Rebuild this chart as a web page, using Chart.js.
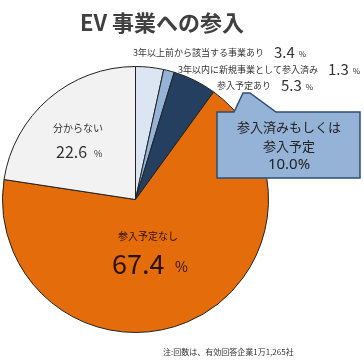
<!DOCTYPE html>
<html>
<head>
<meta charset="utf-8">
<script src="https://cdn.jsdelivr.net/npm/chart.js@4/dist/chart.umd.min.js"></script>
<style>
  body { margin: 0; background: #fff; }
  #evChart { display: block; }
</style>
</head>
<body>
<canvas id="evChart" width="364" height="362"></canvas>
<script>
const categories = ['3年以上前から該当する事業あり', '3年以内に新規事業として参入済み', '参入予定あり', '参入予定なし', '分からない'];
const shares = [3.4, 1.3, 5.3, 67.4, 22.6];
const sliceColors = ['#dce6f2', '#95b3d7', '#243f60', '#e46c0a', '#f2f2f2'];
const calloutLines = ['参入済みもしくは', '参入予定', '10.0%'];

const FONT = '"Noto Sans CJK JP", "Noto Sans", sans-serif';

function font(size, weight, family) {
  return (weight || 'normal') + ' ' + size + 'px ' + (family || FONT);
}

// value label: category text then number then small %
function drawValue(ctx, x, y, label, value, labelSize, numSize, pctSize, color) {
  ctx.fillStyle = color;
  ctx.textBaseline = 'alphabetic';
  ctx.textAlign = 'left';
  ctx.font = font(labelSize);
  ctx.fillText(label, x, y);
  let w = ctx.measureText(label).width + 10;
  ctx.font = font(numSize);
  ctx.fillText(value.toFixed(1), x + w, y + 2);
  w += ctx.measureText(value.toFixed(1)).width + 4;
  ctx.font = font(pctSize);
  ctx.fillText('%', x + w, y + 1);
}

const textPlugin = {
  id: 'texts',
  afterDraw(chart) {
    const ctx = chart.ctx;
    ctx.save();

    // title
    ctx.fillStyle = '#404040';
    ctx.font = font(22, 'bold');
    ctx.textAlign = 'center';
    ctx.textBaseline = 'middle';
    ctx.fillText('EV 事業への参入', 162, 23);

    // small slices, labelled outside
    drawValue(ctx, 133, 56, categories[0], shares[0], 9, 15, 8, '#333');
    drawValue(ctx, 178, 73, categories[1], shares[1], 9, 15, 8, '#333');
    drawValue(ctx, 217, 89, categories[2], shares[2], 9, 15, 8, '#333');

    // gray slice
    ctx.fillStyle = '#333';
    ctx.font = font(10);
    ctx.textAlign = 'left';
    ctx.fillText(categories[4], 53, 132);
    ctx.font = font(16);
    ctx.fillText(shares[4].toFixed(1), 56, 158);
    ctx.font = font(9);
    ctx.fillText('%', 94, 157);

    // orange slice
    ctx.fillStyle = '#2a1300';
    ctx.font = font(10);
    ctx.fillText(categories[3], 118, 240);
    ctx.font = font(27);
    ctx.fillText(shares[3].toFixed(1), 112, 274);
    ctx.font = font(14);
    ctx.fillText('%', 175, 272);

    // callout
    ctx.beginPath();
    ctx.moveTo(217, 112);
    ctx.lineTo(234, 112);
    ctx.lineTo(243, 93);
    ctx.lineTo(250, 93);
    ctx.lineTo(276, 112);
    ctx.lineTo(360, 112);
    ctx.lineTo(360, 178);
    ctx.lineTo(217, 178);
    ctx.closePath();
    ctx.fillStyle = '#95b3d7';
    ctx.fill();
    ctx.lineWidth = 1.5;
    ctx.strokeStyle = '#2c4d75';
    ctx.stroke();

    ctx.fillStyle = '#222';
    ctx.textAlign = 'center';
    ctx.textBaseline = 'middle';
    calloutLines.forEach((t, i) => {
      ctx.font = i === 2 ? font(15, 'normal', '"Noto Sans", sans-serif') : font(13);
      ctx.fillText(t, 289, 127 + i * 19);
    });

    // footnote
    ctx.fillStyle = '#333';
    ctx.font = font(8);
    ctx.textAlign = 'left';
    ctx.textBaseline = 'alphabetic';
    ctx.fillText('注:回数は、有効回答企業1万1,265社', 163, 355);

    ctx.restore();
  }
};

new Chart(document.getElementById('evChart'), {
  type: 'pie',
  data: {
    labels: categories,
    datasets: [{
      data: shares,
      backgroundColor: sliceColors,
      borderColor: '#222',
      borderWidth: 1
    }]
  },
  options: {
    responsive: false,
    animation: false,
    layout: { padding: { left: 2, top: 66, right: 95, bottom: 29 } },
    plugins: {
      legend: { display: false },
      tooltip: { enabled: false }
    }
  },
  plugins: [textPlugin]
});
</script>
</body>
</html>
